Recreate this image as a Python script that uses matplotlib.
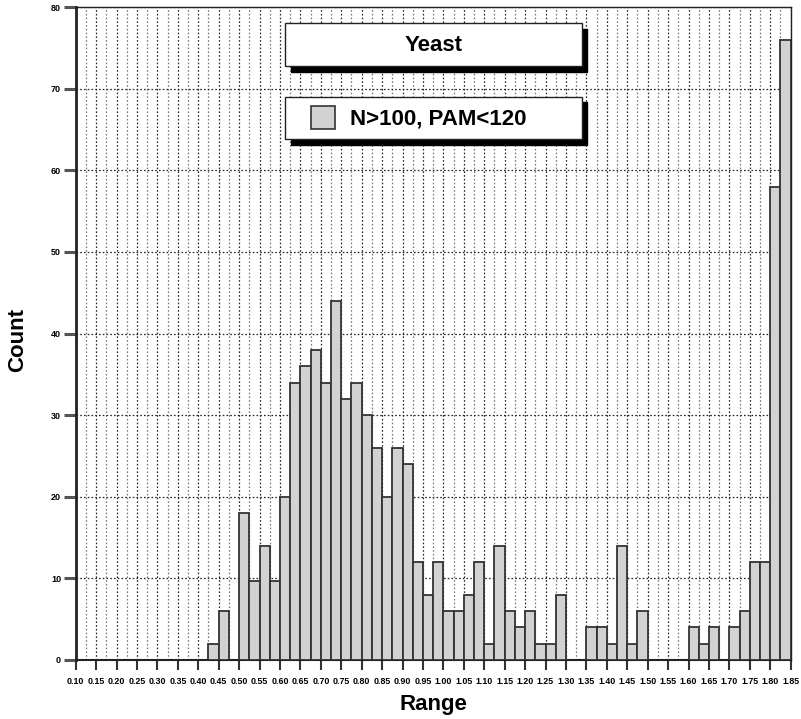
import matplotlib.pyplot as plt
from matplotlib.patches import Rectangle
from matplotlib.ticker import MultipleLocator

plt.rcParams['font.family'] = ['Liberation Sans', 'DejaVu Sans']
plt.rcParams['font.weight'] = 'bold'

# histogram bins (left edge) with non-zero counts
bin_left = [0.425, 0.45, 0.50, 0.525, 0.55, 0.575, 0.60, 0.625, 0.65, 0.675,
            0.70, 0.725, 0.75, 0.775, 0.80, 0.825, 0.85, 0.875, 0.90, 0.925,
            0.95, 0.975, 1.00, 1.025, 1.05, 1.075, 1.10, 1.125, 1.15, 1.175,
            1.20, 1.225, 1.25, 1.275, 1.35, 1.375, 1.40, 1.425, 1.45, 1.475,
            1.60, 1.625, 1.65, 1.70, 1.725, 1.75, 1.775, 1.80, 1.825]
counts = [2, 6, 18, 9.7, 14, 9.7, 20, 34, 36, 38,
          34, 44, 32, 34, 30, 26, 20, 26, 24, 12,
          8, 12, 6, 6, 8, 12, 2, 14, 6, 4,
          6, 2, 2, 8, 4, 4, 2, 14, 2, 6,
          4, 2, 4, 4, 6, 12, 12, 58, 76]
bin_width = 0.025

title = "Yeast"
series_label = "N>100, PAM<120"

fig = plt.figure(figsize=(8.01, 7.19), dpi=100)
ax = fig.add_axes([0.0945, 0.0821, 0.8926, 0.9079])

bar_color = "#d2d2d4"
ax.bar(bin_left, counts, width=bin_width, align="edge", color=bar_color,
       edgecolor="#333333", linewidth=1.3, zorder=3)

ax.set_xlim(0.10, 1.85)
ax.set_ylim(0, 80)

ax.xaxis.set_major_locator(MultipleLocator(0.05))
ax.xaxis.set_minor_locator(MultipleLocator(0.025))
ax.yaxis.set_major_locator(MultipleLocator(10))
ax.xaxis.set_major_formatter(lambda v, p: f"{v:.2f}")

ax.grid(which="major", axis="both", color="#222222", linestyle=(0, (1.3, 1.7)),
        linewidth=0.9, zorder=1)
ax.grid(which="minor", axis="x", color="#777777", linestyle=(0, (1.3, 1.7)),
        linewidth=0.9, zorder=1)
ax.set_axisbelow(True)

ax.tick_params(axis="x", which="major", length=7, width=1.5, color="#333333",
               labelsize=6.4, pad=5)
ax.tick_params(axis="x", which="minor", length=0)
ax.tick_params(axis="y", which="major", length=9, width=2.2, color="#555555",
               labelsize=6.5, pad=1.5)

ax.spines["left"].set_linewidth(2)
ax.spines["bottom"].set_linewidth(1.5)
ax.spines["top"].set_linewidth(1)
ax.spines["right"].set_linewidth(1)
for s in ax.spines.values():
    s.set_color("#222222")

ax.set_xlabel("Range", fontsize=16, fontweight="bold")
ax.set_ylabel("Count", fontsize=16, fontweight="bold")
ax.xaxis.set_label_coords(0.5, -0.052)
ax.yaxis.set_label_coords(-0.066, 0.49)
ax.xaxis.label.set_verticalalignment("top")

# title box and legend box with drop shadows (figure fraction)
fw, fh = 801.0, 719.0
dx, dy = 5.5 / fw, 5.7 / fh
for (x0, y0, x1, y1) in [(285, 23.3, 581.7, 66.0), (285, 96.7, 581.7, 139.3)]:
    bx, by = x0 / fw, 1 - y1 / fh
    bw, bh = (x1 - x0) / fw, (y1 - y0) / fh
    fig.add_artist(Rectangle((bx + dx, by - dy), bw, bh, transform=fig.transFigure,
                             facecolor="black", edgecolor="black", zorder=5))
    fig.add_artist(Rectangle((bx, by), bw, bh, transform=fig.transFigure,
                             facecolor="white", edgecolor="#222222", linewidth=1,
                             zorder=6))

fig.text(433.3 / fw, 1 - 45.5 / fh, title, ha="center", va="center",
         fontsize=16, fontweight="bold", zorder=7)
fig.add_artist(Rectangle((310.7 / fw, 1 - 129 / fh), 24.3 / fw, 23 / fh,
                         transform=fig.transFigure, facecolor=bar_color,
                         edgecolor="#333333", linewidth=1.2, zorder=7))
fig.text(350 / fw, 1 - 118.5 / fh, series_label, ha="left", va="center",
         fontsize=16, fontweight="bold", zorder=7)

fig.savefig("out.png", dpi=100)
